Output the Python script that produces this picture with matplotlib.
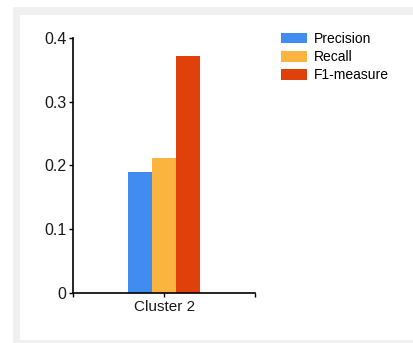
import numpy as np
import matplotlib.pyplot as plt
from matplotlib.patches import Rectangle
from matplotlib.ticker import FixedLocator

categories = ['Cluster 2']
series_names = ['Precision', 'Recall', 'F1-measure']
precision = [0.19]
recall = [0.212]
f1_measure = [0.371]
y_ticks = [0, 0.1, 0.2, 0.3, 0.4]
y_tick_labels = ['0', '0.1', '0.2', '0.3', '0.4']

colors = ['#418CF0', '#FCB441', '#E0400A']

plt.rcParams['font.family'] = ['Liberation Sans', 'DejaVu Sans']

W, H = 413, 343
fig = plt.figure(figsize=(W / 100, H / 100), dpi=100)
fig.patch.set_facecolor('white')

# gray frame with white panel (pixel coords -> figure fraction)
fig.patches.append(Rectangle((13 / W, 0), 1, 1 - 7 / H, transform=fig.transFigure,
                             facecolor='#F0F0F0', edgecolor='none', zorder=-2))
fig.patches.append(Rectangle((20 / W, 3 / H), 1, 1 - 18 / H, transform=fig.transFigure,
                             facecolor='white', edgecolor='none', zorder=-1))

ax = fig.add_axes([73.3 / W, 1 - 293 / H, (255 - 73.3) / W, (293 - 37.7) / H])
ax.set_facecolor('none')

x = np.arange(len(categories))
width = 0.131
all_values = [precision, recall, f1_measure]
for i, (name, vals) in enumerate(zip(series_names, all_values)):
    ax.bar(x + (i - 1) * width, vals, width, color=colors[i], label=name, zorder=2)

ax.set_xlim(-0.5, len(categories) - 0.5)
ax.set_ylim(0, 0.4)
ax.set_yticks(y_ticks)
ax.set_yticklabels(y_tick_labels)
ax.set_xticks(x)
ax.set_xticklabels(categories)
ax.xaxis.set_minor_locator(FixedLocator([-0.5, len(categories) - 0.5]))

for s in ['top', 'right']:
    ax.spines[s].set_visible(False)
for s in ['left', 'bottom']:
    ax.spines[s].set_linewidth(1.2)
    ax.spines[s].set_color('black')

ax.tick_params(axis='both', which='both', length=3, width=1, color='black',
               labelcolor='#1a1a1a', pad=2)
ax.tick_params(axis='y', labelsize=11.5)
ax.tick_params(axis='x', labelsize=11)

handles, labels = ax.get_legend_handles_labels()
fig.legend(handles, labels, loc='upper left', bbox_to_anchor=(281 / W, 1 - 32 / H),
           frameon=False, fontsize=10, handlelength=1.85, handleheight=0.8,
           handletextpad=0.5, labelspacing=0.3, borderaxespad=0, borderpad=0)

fig.savefig('out.png', dpi=100)
